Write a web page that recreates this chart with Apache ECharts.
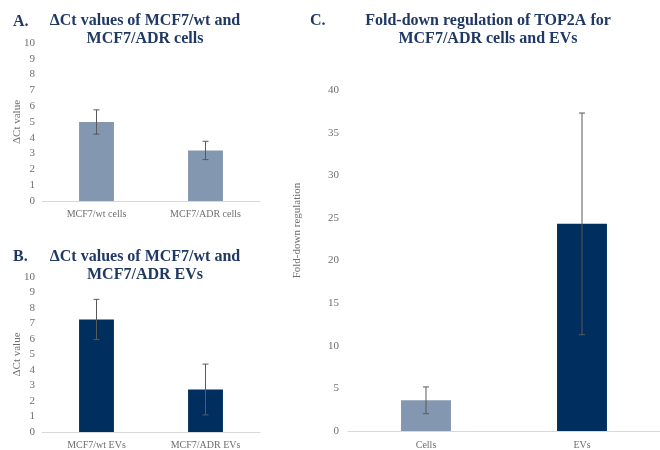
<!DOCTYPE html>
<html><head><meta charset="utf-8">
<script src="https://cdn.jsdelivr.net/npm/echarts@6/dist/echarts.min.js"></script>
<style>html,body{margin:0;padding:0;background:#fff}#c{width:660px;height:450px}</style>
</head><body><div id="c"></div>
<script>
// Data
const catsA = ['MCF7/wt cells', 'MCF7/ADR cells'];
const valsA = [5.0, 3.2];
const errA = [0.77, 0.58];
const catsB = ['MCF7/wt EVs', 'MCF7/ADR EVs'];
const valsB = [7.26, 2.74];
const errB = [1.3, 1.64];
const catsC = ['Cells', 'EVs'];
const valsC = [3.6, 24.3];
const errC = [1.57, 13.0];
const ticksAB = [0, 10, 1];
const ticksC = [0, 40, 5];

const LIGHT = '#8497B0', NAVY = '#002F5F', TITLE = '#1F3864', TXT = '#6E6E6E';
const SERIF = '"Liberation Serif","Times New Roman",serif';

function errSeries(idx, vals, errs) {
  return {
    type: 'custom', xAxisIndex: idx, yAxisIndex: idx, z: 10,
    data: vals.map((v, i) => [i, v - errs[i], v + errs[i]]),
    renderItem: function (params, api) {
      const x = api.value(0);
      const lo = api.coord([x, api.value(1)]);
      const hi = api.coord([x, api.value(2)]);
      const w = 3;
      const st = { stroke: '#595959', lineWidth: 1 };
      return { type: 'group', children: [
        { type: 'line', shape: { x1: lo[0], y1: lo[1], x2: hi[0], y2: hi[1] }, style: st },
        { type: 'line', shape: { x1: lo[0] - w, y1: lo[1], x2: lo[0] + w, y2: lo[1] }, style: st },
        { type: 'line', shape: { x1: hi[0] - w, y1: hi[1], x2: hi[0] + w, y2: hi[1] }, style: st }
      ]};
    }
  };
}

function xAx(idx, cats, margin) {
  return {
    type: 'category', gridIndex: idx, data: cats,
    axisLine: { lineStyle: { color: '#D9D9D9', width: 1 } },
    axisTick: { show: false },
    axisLabel: { color: TXT, fontFamily: SERIF, fontSize: 10, margin: margin }
  };
}
function yAx(idx, t, name, gap, margin, pad, moveOverlap) {
  return {
    type: 'value', gridIndex: idx, min: t[0], max: t[1], interval: t[2],
    name: name, nameLocation: 'middle', nameGap: gap, nameMoveOverlap: moveOverlap,
    nameTextStyle: { color: TXT, fontFamily: SERIF, fontSize: 11, padding: pad || 0 },
    axisLine: { show: false }, axisTick: { show: false }, splitLine: { show: false },
    axisLabel: { color: TXT, fontFamily: SERIF, fontSize: 11, margin: margin }
  };
}

const titleStyle = { color: TITLE, fontFamily: SERIF, fontSize: 16, fontWeight: 'bold', lineHeight: 18, align: 'center' };
const letterStyle = { color: TITLE, fontFamily: SERIF, fontSize: 16, fontWeight: 'bold' };

const option = {
  animation: false,
  backgroundColor: '#fff',
  title: [
    { text: 'A.', left: 13, top: 14, textStyle: letterStyle, padding: 0 },
    { text: 'ΔCt values of MCF7/wt and\nMCF7/ADR cells', left: 145, top: 12, textAlign: 'center', textStyle: titleStyle, padding: 0 },
    { text: 'B.', left: 13, top: 249, textStyle: letterStyle, padding: 0 },
    { text: 'ΔCt values of MCF7/wt and\nMCF7/ADR EVs', left: 145, top: 248, textAlign: 'center', textStyle: titleStyle, padding: 0 },
    { text: 'C.', left: 310, top: 13, textStyle: letterStyle, padding: 0 },
    { text: 'Fold-down regulation of TOP2A for\nMCF7/ADR cells and EVs', left: 488, top: 12, textAlign: 'center', textStyle: titleStyle, padding: 0 }
  ],
  grid: [
    { left: 42, right: 400, top: 43, bottom: 249 },
    { left: 42, right: 400, top: 277, bottom: 15 },
    { left: 348, right: -12, top: 90, bottom: 13 }
  ],
  xAxis: [xAx(0, catsA, 8), xAx(1, catsB, 8), xAx(2, catsC, 9)],
  yAxis: [
    yAx(0, ticksAB, 'ΔCt value', 19, 7, 0, false),
    yAx(1, ticksAB, 'ΔCt value', 19, 7, 0, false),
    yAx(2, ticksC, 'Fold-down regulation', 45, 9, [0, 0, 0, 60])
  ],
  series: [
    { type: 'bar', xAxisIndex: 0, yAxisIndex: 0, data: valsA, barWidth: '32%', itemStyle: { color: LIGHT } },
    errSeries(0, valsA, errA),
    { type: 'bar', xAxisIndex: 1, yAxisIndex: 1, data: valsB, barWidth: '32%', itemStyle: { color: NAVY } },
    errSeries(1, valsB, errB),
    { type: 'bar', xAxisIndex: 2, yAxisIndex: 2, barWidth: '32%',
      data: valsC.map((v, i) => ({ value: v, itemStyle: { color: i === 0 ? LIGHT : NAVY } })) },
    errSeries(2, valsC, errC)
  ]
};
const chart = echarts.init(document.getElementById('c'), null, { renderer: 'canvas' });
chart.setOption(option);
</script></body></html>
